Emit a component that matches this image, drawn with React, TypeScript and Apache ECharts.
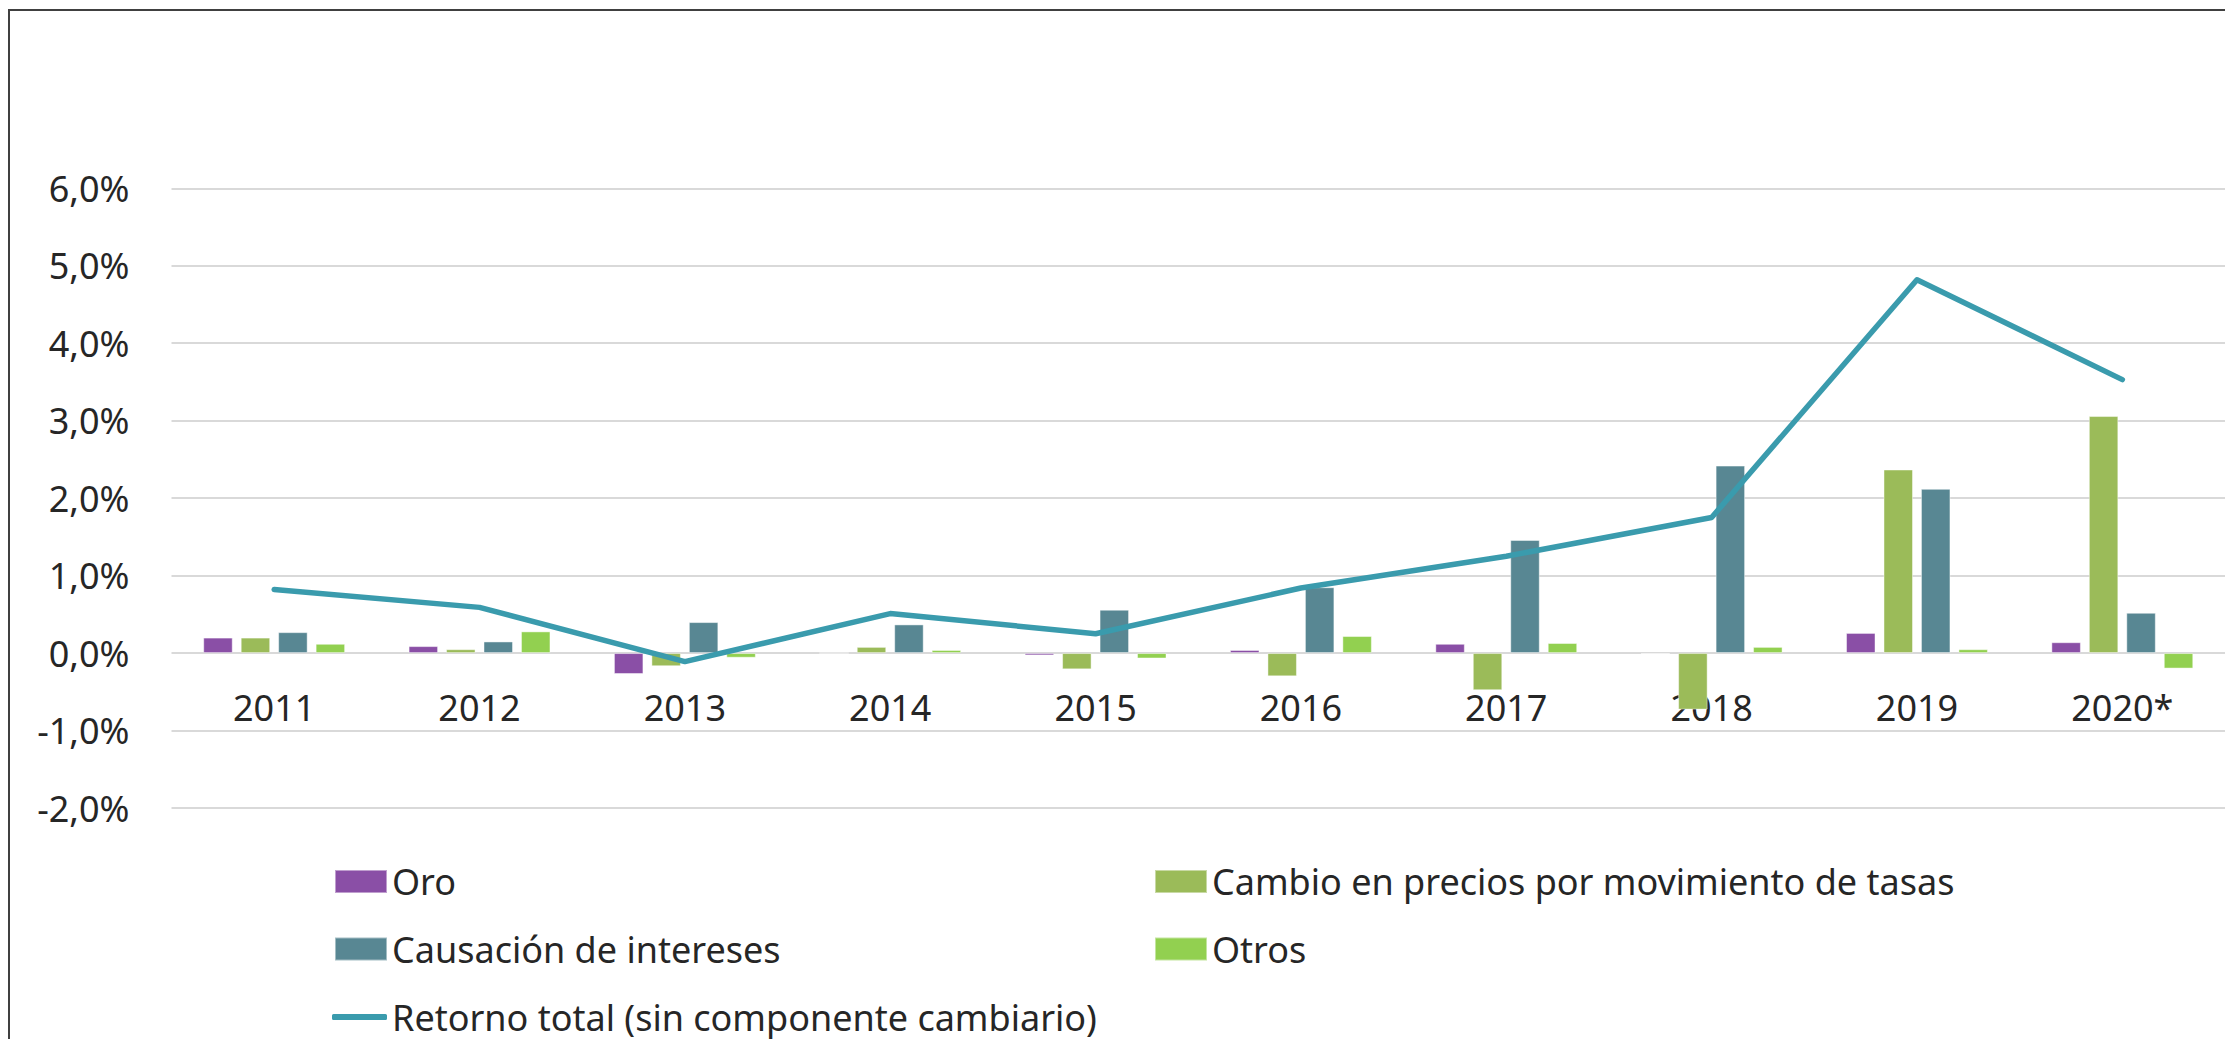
import React, { useEffect, useRef } from "react";
import * as echarts from "echarts";

const categories = ["2011", "2012", "2013", "2014", "2015", "2016", "2017", "2018", "2019", "2020*"];
const oro = [0.2, 0.09, -0.27, 0.0, -0.03, 0.04, 0.12, -0.01, 0.26, 0.14];
const cambio = [0.2, 0.05, -0.17, 0.08, -0.21, -0.3, -0.48, -0.73, 2.37, 3.06];
const causacion = [0.27, 0.15, 0.4, 0.37, 0.56, 0.85, 1.46, 2.42, 2.12, 0.52];
const otros = [0.12, 0.28, -0.06, 0.04, -0.07, 0.22, 0.13, 0.08, 0.05, -0.2];
const retorno = [0.82, 0.59, -0.11, 0.51, 0.25, 0.84, 1.25, 1.75, 4.82, 3.53];

const names = [
  "Oro",
  "Cambio en precios por movimiento de tasas",
  "Causación de intereses",
  "Otros",
  "Retorno total (sin componente cambiario)",
];
const colors = ["#8a4fa6", "#9bbb59", "#588793", "#92d050", "#3a9bad"];

const FONT = "Noto Sans";
const TEXT = "#262626";

const Y_MIN = -2;
const Y_MAX = 6;
const GRID_TOP = 188.3;
const GRID_H = 619.7;

export default function App() {
  const ref = useRef<HTMLDivElement>(null);
  useEffect(() => {
    if (!ref.current) return;
    const chart = echarts.init(ref.current, undefined, { renderer: "svg" });
    const barData = [oro, cambio, causacion, otros];
    const legendBase = {
      padding: 0,
      itemWidth: 52,
      itemHeight: 23,
      itemGap: 0,
      textStyle: { fontFamily: FONT, fontSize: 36, color: TEXT },
      icon: "rect",
    };
    // distance from grid bottom up to the zero line
    const zeroOffset = (GRID_H * (0 - Y_MIN)) / (Y_MAX - Y_MIN);
    chart.setOption({
      animation: false,
      backgroundColor: "#ffffff",
      grid: { left: 171.5, top: GRID_TOP, width: 2080, height: GRID_H, containLabel: false },
      xAxis: {
        type: "category",
        data: categories,
        position: "bottom",
        offset: -zeroOffset,
        axisLine: { show: false, onZero: false },
        axisTick: { show: false },
        axisLabel: { fontFamily: FONT, fontSize: 36, color: TEXT, margin: 36 },
      },
      yAxis: {
        type: "value",
        min: Y_MIN,
        max: Y_MAX,
        interval: 1,
        axisLine: { show: false },
        axisTick: { show: false },
        splitLine: { show: true, lineStyle: { color: "#d9d9d9", width: 2 } },
        axisLabel: {
          fontFamily: FONT,
          fontSize: 36,
          color: TEXT,
          margin: 42,
          formatter: (v: number) => v.toFixed(1).replace(".", ",") + "%",
        },
      },
      legend: [
        { ...legendBase, data: [names[0]], left: 334, top: 863.5 },
        { ...legendBase, data: [names[1]], left: 1154, top: 863.5 },
        { ...legendBase, data: [names[2]], left: 334, top: 931 },
        { ...legendBase, data: [names[3]], left: 1154, top: 931 },
        { ...legendBase, data: [names[4]], left: 332, top: 999, icon: "roundRect", itemWidth: 55, itemHeight: 6 },
      ],
      series: [
        ...barData.map((d, i) => ({
          name: names[i],
          type: "bar",
          data: d,
          barWidth: 29.5,
          barGap: "27%",
          itemStyle: { color: colors[i], borderColor: "rgba(255,255,255,0.45)", borderWidth: 1 },
        })),
        {
          name: names[4],
          type: "line",
          data: retorno,
          symbol: "none",
          lineStyle: { color: colors[4], width: 5.5, cap: "round", join: "round" },
          itemStyle: { color: colors[4] },
          z: 5,
        },
      ],
      graphic: [
        {
          type: "rect",
          shape: { x: 9, y: 10, width: 2400, height: 1200 },
          style: { fill: "none", stroke: "#404040", lineWidth: 2 },
          silent: true,
        },
      ],
    });
    return () => chart.dispose();
  }, []);
  return (
    <div
      ref={ref}
      style={{ position: "absolute", left: 0, top: 0, width: 2225, height: 1039, background: "#fff" }}
    />
  );
}
